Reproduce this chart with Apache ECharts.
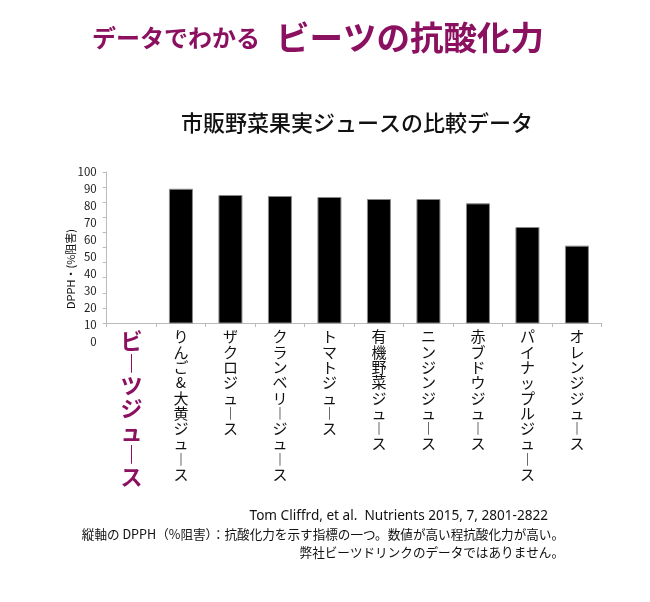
<!DOCTYPE html>
<html>
<head>
<meta charset="utf-8">
<script src="https://cdn.jsdelivr.net/npm/echarts@6/dist/echarts.min.js"></script>
<style>html,body{margin:0;padding:0;background:#fff;}#c{width:650px;height:602px;}</style>
</head>
<body>
<div id="c"></div>
<script>
var categories = ['ビーツジュース','りんご&大黄ジュース','ザクロジュース','クランベリージュース','トマトジュース','有機野菜ジュース','ニンジンジュース','赤ブドウジュース','パイナップルジュース','オレンジジュース'];
var values = [null, 90.0, 86.3, 85.7, 85.1, 83.9, 83.9, 81.3, 67.2, 56.1];
var yTickLabels = ['0','10','20','30','40','50','60','70','80','90','100'];
var yName = 'DPPH・(%阻害)';
var titleSmall = 'データでわかる';
var titleBig = 'ビーツの抗酸化力';
var subTitle = '市販野菜果実ジュースの比較データ';
var notes = ['Tom Cliffrd, et al.  Nutrients 2015, 7, 2801-2822',
             '縦軸の DPPH（%阻害）：抗酸化力を示す指標の一つ。数値が高い程抗酸化力が高い。',
             '弊社ビーツドリンクのデータではありません。'];

var purple = '#8B1060';
var FONT = '"Noto Sans CJK JP", "Noto Sans", sans-serif';

function vertical(s) {
  return s.split('').map(function (ch) { return ch === 'ー' ? '︱' : ch; }).join('\n');
}

var chart = echarts.init(document.getElementById('c'), null, {renderer: 'canvas'});
chart.setOption({
  backgroundColor: '#fff',
  textStyle: {fontFamily: FONT},
  title: [
    {
      text: '{a|' + titleSmall + '}{b|' + titleBig + '}',
      left: 87, top: 16,
      textStyle: {
        rich: {
          a: {fontSize: 24, fontWeight: 'bold', color: purple, fontFamily: FONT},
          b: {fontSize: 33.5, fontWeight: 'bold', color: purple, fontFamily: FONT, padding: [0, 0, 0, 16]}
        }
      }
    },
    {
      text: subTitle,
      left: 176, top: 107,
      textStyle: {fontSize: 22, fontWeight: 500, color: '#111', fontFamily: FONT}
    }
  ],
  grid: [
    {left: 106.7, right: 48.3, top: 172, height: 151, containLabel: false},
    {left: 106.7, right: 48.3, top: 172, height: 169.5, containLabel: false}
  ],
  xAxis: [
    {
      type: 'category', gridIndex: 0, data: categories,
      axisLine: {show: true, lineStyle: {color: '#bbb', width: 1}},
      axisTick: {show: true, length: 4, lineStyle: {color: '#bbb'}},
      axisLabel: {
        interval: 0, margin: 6, verticalAlign: 'top',
        formatter: function (v, i) {
          if (i === 0) return '{p|' + vertical(v) + '}';
          return '{n|' + vertical(v) + '}';
        },
        rich: {
          p: {fontSize: 22, lineHeight: 22.7, fontWeight: 'bold', color: purple, fontFamily: FONT, align: 'center'},
          n: {fontSize: 15, lineHeight: 15.3, color: '#111', fontFamily: FONT, align: 'center'}
        }
      }
    },
    {type: 'category', gridIndex: 1, data: categories, show: false}
  ],
  yAxis: [
    {
      type: 'value', gridIndex: 0, min: 10, max: 100, interval: 10,
      axisLine: {show: false}, axisTick: {show: false}, axisLabel: {show: false}, splitLine: {show: false}
    },
    {
      type: 'value', gridIndex: 0, position: 'left', min: 0, max: 100, interval: 10,
      axisLine: {show: true, lineStyle: {color: '#bbb'}},
      axisTick: {show: true, length: 4, lineStyle: {color: '#bbb'}},
      axisLabel: {show: false}, splitLine: {show: false}
    },
    {
      type: 'value', gridIndex: 1, min: 0, max: 100, interval: 10,
      axisLine: {show: false}, axisTick: {show: false}, splitLine: {show: false},
      axisLabel: {
        show: true, margin: 10, fontSize: 11.5, color: '#222', fontFamily: FONT,
        formatter: function (v) { return yTickLabels[Math.round(v / 10)]; }
      }
    }
  ],
  graphic: [
    {
      type: 'text', x: 71, y: 269, rotation: Math.PI / 2,
      style: {text: yName, fontSize: 11, fill: '#111', fontFamily: FONT, textAlign: 'center', textVerticalAlign: 'middle'}
    },
    {
      type: 'text', x: 548, y: 516,
      style: {text: notes[0], fontSize: 13.6, fill: '#111', fontFamily: '"Noto Sans", sans-serif', textAlign: 'right', textVerticalAlign: 'middle'}
    },
    {
      type: 'text', x: 564, y: 534,
      style: {text: notes[1], fontSize: 12.6, fill: '#111', fontFamily: FONT, textAlign: 'right', textVerticalAlign: 'middle'}
    },
    {
      type: 'text', x: 564, y: 552,
      style: {text: notes[2], fontSize: 12.6, fill: '#111', fontFamily: FONT, textAlign: 'right', textVerticalAlign: 'middle'}
    }
  ],
  series: [
    {
      type: 'bar', xAxisIndex: 0, yAxisIndex: 0, data: values,
      barWidth: 24,
      itemStyle: {color: '#000', borderColor: '#888', borderWidth: 1},
      animation: false
    }
  ],
  animation: false
});
</script>
</body>
</html>
